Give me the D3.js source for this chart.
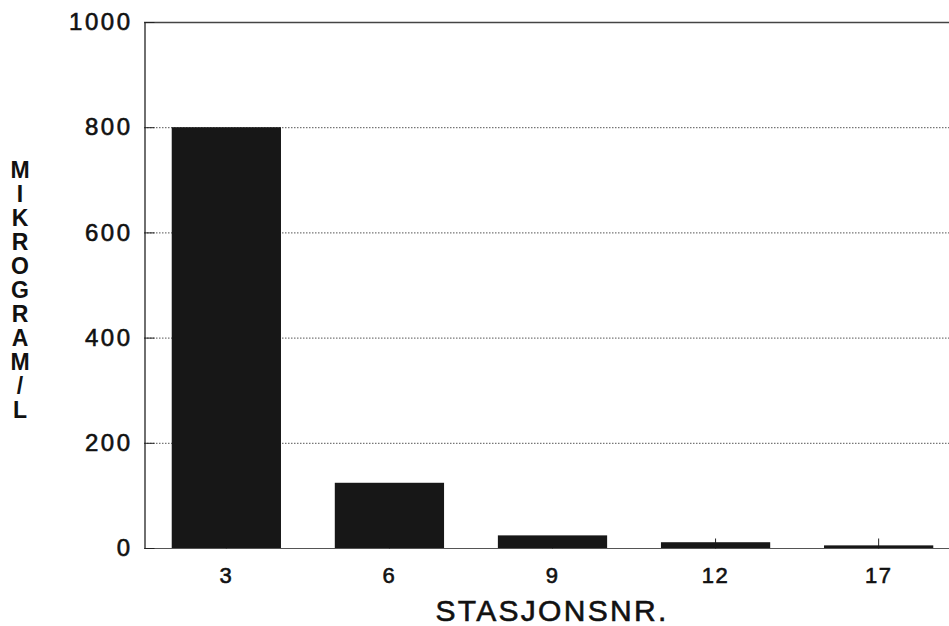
<!DOCTYPE html>
<meta charset="utf-8">
<head>
  <title>Mikrogram/L per stasjon</title>
</head>

<style>
body {
  margin: 0;
  background: #fff;
  font-family: "Liberation Sans", Arial, Helvetica, sans-serif;
  color: #111;
}

#chart text {
  fill: #111;
  stroke: #111;
  stroke-width: 0.6px;
}

#chart .grid line {
  stroke: #555;
  stroke-width: 1;
  stroke-dasharray: 1.5 1.5;
}

#chart .bar {
  fill: #171717;
}
</style>

<body>
  <div id="chart">
    <svg width="949" height="626"></svg>
  </div>

  <script src="https://cdnjs.cloudflare.com/ajax/libs/d3/7.8.5/d3.min.js"></script>

  <script>
  // data
  var stations = ["3", "6", "9", "12", "17"];
  var values = [800, 124, 24, 11, 5];
  var yTicks = [0, 200, 400, 600, 800, 1000];
  var yLabel = "MIKROGRAM/L";
  var xLabel = "STASJONSNR.";

  var svg = d3.select("#chart svg");

  var x = d3.scaleBand()
    .domain(stations)
    .range([144, 961])
    .paddingInner(0.33)
    .paddingOuter(0.17);

  var y = d3.scaleLinear()
    .domain([0, 1000])
    .range([548, 22]);

  // dotted grid lines
  svg.append("g")
    .attr("class", "grid")
    .selectAll("line")
    .data(yTicks.filter(function(d) { return d > 0 && d < 1000; }))
    .enter().append("line")
    .attr("x1", 144)
    .attr("x2", 949)
    .attr("y1", function(d) { return y(d) + 0.5; })
    .attr("y2", function(d) { return y(d) + 0.5; });

  // top frame line and baseline
  svg.append("line")
    .attr("x1", 144).attr("x2", 949)
    .attr("y1", y(1000) + 0.5).attr("y2", y(1000) + 0.5)
    .attr("stroke", "#444").attr("stroke-width", 1.3);

  svg.append("line")
    .attr("x1", 144).attr("x2", 949)
    .attr("y1", y(0) + 0.5).attr("y2", y(0) + 0.5)
    .attr("stroke", "#555").attr("stroke-width", 1.2);

  // x ticks pointing up from the baseline
  var xAxis = svg.append("g")
    .attr("transform", "translate(0," + (y(0) + 0.5) + ")")
    .call(d3.axisBottom(x).tickSizeInner(-10).tickSizeOuter(0).tickPadding(19));
  xAxis.select(".domain").remove();
  xAxis.selectAll("line").attr("stroke", "#222");
  xAxis.selectAll("text")
    .attr("font-size", 22)
    .attr("font-family", "'Liberation Sans', Arial, sans-serif")
    .attr("letter-spacing", 1.5)
    .attr("dy", "0.71em");

  // bars
  svg.append("g")
    .selectAll("rect")
    .data(values)
    .enter().append("rect")
    .attr("class", "bar")
    .attr("x", function(d, i) { return x(stations[i]); })
    .attr("width", x.bandwidth())
    .attr("y", function(d) { return y(d); })
    .attr("height", function(d) { return y(0) - y(d); });

  // y axis with ticks pointing inward
  var yAxis = svg.append("g")
    .attr("transform", "translate(144.5,0)")
    .call(d3.axisLeft(y).tickValues(yTicks).tickFormat(d3.format("d"))
      .tickSizeInner(-10).tickSizeOuter(0).tickPadding(12));
  yAxis.select(".domain").attr("stroke", "#222").attr("stroke-width", 1.3);
  yAxis.selectAll("line").attr("stroke", "#222");
  yAxis.selectAll("text")
    .attr("font-size", 24)
    .attr("font-family", "'Liberation Sans', Arial, sans-serif")
    .attr("letter-spacing", 2.5);

  // stacked y label
  svg.append("g")
    .selectAll("text")
    .data(yLabel.split(""))
    .enter().append("text")
    .attr("x", 20)
    .attr("y", function(d, i) { return 178 + i * 24; })
    .attr("text-anchor", "middle")
    .attr("font-size", 23)
    .attr("font-weight", "bold")
    .style("stroke-width", "0px")
    .text(function(d) { return d; });

  // x title
  svg.append("text")
    .attr("x", 552)
    .attr("y", 621)
    .attr("text-anchor", "middle")
    .attr("font-size", 30)
    .attr("letter-spacing", 2.3)
    .text(xLabel);
  </script>
</body>
</html>
